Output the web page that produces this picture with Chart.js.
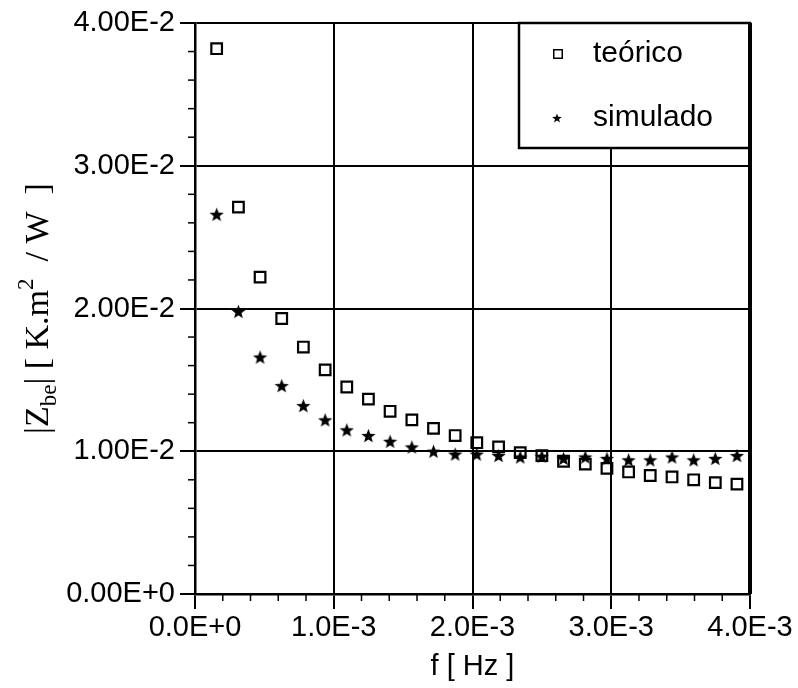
<!DOCTYPE html>
<html>
<head>
<meta charset="utf-8">
<script src="https://cdn.jsdelivr.net/npm/chart.js@4.4.1/dist/chart.umd.min.js"></script>
<style>
  html, body { margin: 0; padding: 0; background: #fff; }
  canvas { display: block; }
</style>
</head>
<body>
<canvas id="chart" width="798" height="688"></canvas>
<script>
// frequency [Hz]
var freq = [0.000156, 0.000313, 0.000469, 0.000625, 0.000781, 0.000938, 0.001094,
            0.00125, 0.001406, 0.001563, 0.001719, 0.001875, 0.002031, 0.002188,
            0.002344, 0.0025, 0.002656, 0.002813, 0.002969, 0.003125, 0.003281,
            0.003438, 0.003594, 0.00375, 0.003906];

// |Zbe| [K.m2/W]
var teorico = [0.0382, 0.0271, 0.0222, 0.0193, 0.0173, 0.0157, 0.0145, 0.01365,
               0.0128, 0.0122, 0.0116, 0.0111, 0.0106, 0.0103, 0.0099, 0.0097,
               0.0093, 0.0091, 0.0088, 0.00855, 0.0083, 0.0082, 0.0080, 0.0078, 0.0077];
var simulado = [0.0266, 0.0198, 0.0166, 0.0146, 0.0132, 0.0122, 0.0115, 0.0111,
                0.0107, 0.0103, 0.0100, 0.0098, 0.0098, 0.0097, 0.0096, 0.00965,
                0.0095, 0.0096, 0.0095, 0.0094, 0.0094, 0.0096, 0.0094, 0.0095, 0.0097];

var seriesLabels = ["teórico", "simulado"];

function pairs(xs, ys) {
    return xs.map(function (x, i) { return {x: x, y: ys[i]}; });
}

// filled five point star used as marker
function starImage(size) {
    var c = document.createElement("canvas");
    c.width = size; c.height = size;
    var g = c.getContext("2d");
    var cx = size / 2, cy = size / 2 + size * 0.05;
    var ro = size / 2, ri = ro * 0.42;
    g.beginPath();
    for (var i = 0; i < 10; i++) {
        var r = (i % 2 === 0) ? ro : ri;
        var a = -Math.PI / 2 + i * Math.PI / 5;
        g.lineTo(cx + r * Math.cos(a), cy + r * Math.sin(a));
    }
    g.closePath();
    g.fillStyle = "#000";
    g.fill();
    return c;
}
var starBig = starImage(15);
var starSmall = starImage(10);

var tickFont = {family: "'Liberation Sans', Arial, sans-serif", size: 29};

// minor ticks, right/top frame, legend box and the y axis title
var decorations = {
    id: "decorations",
    afterDraw: function (chart) {
        var ctx = chart.ctx;
        var xs = chart.scales.x, ys = chart.scales.y;
        var area = chart.chartArea;
        ctx.save();
        ctx.strokeStyle = "#000";
        ctx.lineWidth = 1.5;
        for (var i = 1; i < 20; i++) {
            if (i % 5 === 0) continue;
            var px = xs.getPixelForValue(i * 0.0002);
            ctx.beginPath();
            ctx.moveTo(px, area.bottom);
            ctx.lineTo(px, area.bottom + 7);
            ctx.stroke();
            var py = ys.getPixelForValue(i * 0.002);
            ctx.beginPath();
            ctx.moveTo(area.left - 7, py);
            ctx.lineTo(area.left, py);
            ctx.stroke();
        }
        // heavier right edge of the frame
        ctx.lineWidth = 4;
        ctx.beginPath();
        ctx.moveTo(area.right, area.top);
        ctx.lineTo(area.right, area.bottom);
        ctx.stroke();

        // legend
        var bx = 519, by = area.top, bw = area.right - 519, bh = 125;
        ctx.fillStyle = "#fff";
        ctx.fillRect(bx, by, bw, bh);
        ctx.lineWidth = 2.5;
        ctx.strokeRect(bx, by, bw, bh);
        ctx.lineWidth = 4;
        ctx.beginPath();
        ctx.moveTo(area.right, area.top);
        ctx.lineTo(area.right, area.top + bh);
        ctx.stroke();
        var rows = [by + 31, by + 95];
        ctx.fillStyle = "rgba(255,255,255,0)";
        ctx.strokeStyle = "#000";
        ctx.lineWidth = 1.5;
        Chart.helpers.drawPoint(ctx, {pointStyle: "rect", radius: 6, borderWidth: 1.5}, 558, rows[0]);
        ctx.drawImage(starSmall, 552, rows[1] - 5);
        ctx.font = "30px 'Liberation Sans', Arial, sans-serif";
        ctx.fillStyle = "#000";
        ctx.textBaseline = "middle";
        ctx.textAlign = "left";
        ctx.fillText(seriesLabels[0], 593, rows[0]);
        ctx.fillText(seriesLabels[1], 593, rows[1]);

        // y axis title with subscript and superscript
        var big = "34px 'Liberation Serif', 'Times New Roman', serif";
        var small = "23px 'Liberation Serif', 'Times New Roman', serif";
        var parts = [
            {t: "|Z", f: big, dy: 0},
            {t: "be", f: small, dy: 8},
            {t: "| [ K.m", f: big, dy: 0},
            {t: "2", f: small, dy: -15},
            {t: "  / W  ]", f: big, dy: 0}
        ];
        var total = 0;
        parts.forEach(function (p) { ctx.font = p.f; p.w = ctx.measureText(p.t).width; total += p.w; });
        ctx.translate(48, (area.top + area.bottom) / 2);
        ctx.rotate(-Math.PI / 2);
        ctx.textBaseline = "alphabetic";
        var x0 = -total / 2;
        parts.forEach(function (p) {
            ctx.font = p.f;
            ctx.fillText(p.t, x0, p.dy);
            x0 += p.w;
        });
        ctx.restore();
    }
};

var ctx = document.getElementById("chart").getContext("2d");
var chart = new Chart(ctx, {
    type: "scatter",
    data: {
        datasets: [
            {
                label: seriesLabels[0],
                data: pairs(freq, teorico),
                pointStyle: "rect",
                pointRadius: 7.5,
                pointBorderWidth: 2.2,
                borderColor: "#000",
                backgroundColor: "rgba(255,255,255,0)",
            }, {
                label: seriesLabels[1],
                data: pairs(freq, simulado),
                pointStyle: starBig,
                pointRadius: 7,
                borderColor: "#000",
                backgroundColor: "#000",
            }
        ],
    },
    options: {
        responsive: false,
        animation: false,
        layout: {padding: {top: 23, right: 48, left: 0, bottom: 0}},
        plugins: {
            legend: {display: false},
            tooltip: {enabled: false},
        },
        scales: {
            x: {
                type: "linear",
                min: 0,
                max: 0.004,
                afterFit: function (scale) { scale.height = 94; },
                ticks: {
                    stepSize: 0.001,
                    color: "#000",
                    font: tickFont,
                    padding: 2,
                    maxRotation: 0,
                    callback: function (v) { return v.toExponential(1).toUpperCase(); },
                },
                grid: {color: "#000", lineWidth: 2, tickLength: 15, tickWidth: 2},
                border: {display: true, color: "#000", width: 2.5},
                title: {
                    display: true,
                    text: "f [ Hz ]",
                    color: "#000",
                    font: {family: "'Liberation Sans', Arial, sans-serif", size: 29},
                    padding: {top: 0, bottom: 4},
                },
            },
            y: {
                type: "linear",
                min: 0,
                max: 0.04,
                afterFit: function (scale) { scale.width = 195; },
                ticks: {
                    stepSize: 0.01,
                    color: "#000",
                    font: tickFont,
                    padding: 5,
                    callback: function (v) { return v.toExponential(2).toUpperCase(); },
                },
                grid: {color: "#000", lineWidth: 2, tickLength: 15, tickWidth: 2},
                border: {display: true, color: "#000", width: 2.5},
            },
        },
    },
    plugins: [decorations],
});
</script>
</body>
</html>
